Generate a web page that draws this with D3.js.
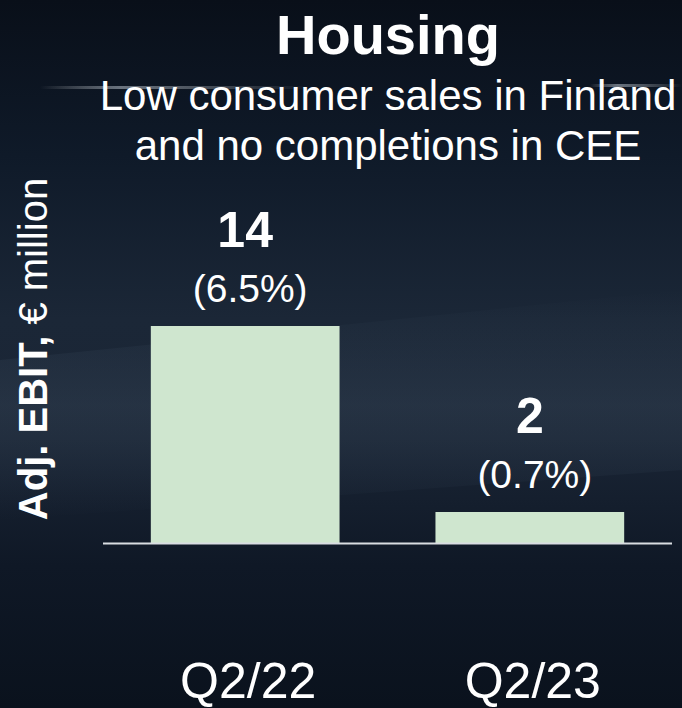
<!DOCTYPE html>
<html>
<head>
<meta charset="utf-8">
<script src="https://cdn.jsdelivr.net/npm/d3@7"></script>
<style>
  html, body { margin: 0; padding: 0; background: #0c1522; }
  svg { display: block; font-family: "Liberation Sans", Arial, sans-serif; }
</style>
</head>
<body>
<svg id="chart" width="682" height="708"></svg>
<script>
"use strict";

// chart data
const categories = ["Q2/22", "Q2/23"];
const ebitValues = [14, 2];
const marginLabels = ["(6.5%)", "(0.7%)"];
const titleText = "Housing";
const subtitleLines = ["Low consumer sales in Finland", "and no completions in CEE"];
const yLabelBold = "Adj. EBIT,";
const yLabelRest = " € million";

const width = 682, height = 708;
const svg = d3.select("#chart");

// background: dark roof-photo look, approximated with gradients
let defs = svg.append("defs");
let bg = defs.append("linearGradient")
    .attr("id", "bgGrad")
    .attr("x1", 0).attr("y1", 0).attr("x2", 0).attr("y2", 1);
bg.append("stop").attr("offset", "0%").attr("stop-color", "#090f19");
bg.append("stop").attr("offset", "22%").attr("stop-color", "#0f1a29");
bg.append("stop").attr("offset", "45%").attr("stop-color", "#1b2737");
bg.append("stop").attr("offset", "62%").attr("stop-color", "#1a2535");
bg.append("stop").attr("offset", "80%").attr("stop-color", "#0f1826");
bg.append("stop").attr("offset", "100%").attr("stop-color", "#0a121d");

let band = defs.append("linearGradient")
    .attr("id", "bandGrad")
    .attr("x1", 0).attr("y1", 0).attr("x2", 0).attr("y2", 1);
band.append("stop").attr("offset", "0%").attr("stop-color", "#3a4a5c").attr("stop-opacity", 0);
band.append("stop").attr("offset", "50%").attr("stop-color", "#3a4a5c").attr("stop-opacity", 0.35);
band.append("stop").attr("offset", "100%").attr("stop-color", "#3a4a5c").attr("stop-opacity", 0);

let streak = defs.append("linearGradient")
    .attr("id", "streakGrad")
    .attr("x1", 0).attr("y1", 0).attr("x2", 1).attr("y2", 0);
streak.append("stop").attr("offset", "0%").attr("stop-color", "#ffffff").attr("stop-opacity", 0);
streak.append("stop").attr("offset", "30%").attr("stop-color", "#c8d2dc").attr("stop-opacity", 0.5);
streak.append("stop").attr("offset", "100%").attr("stop-color", "#ffffff").attr("stop-opacity", 0);

svg.append("rect")
    .attr("width", width)
    .attr("height", height)
    .attr("fill", "url(#bgGrad)");

// lighter diagonal band (roof surface)
svg.append("path")
    .attr("d", "M0,360 L682,290 L682,470 L0,520 Z")
    .attr("fill", "url(#bandGrad)");

// faint light streaks near the subtitle
svg.append("rect")
    .attr("x", 40).attr("y", 86)
    .attr("width", 270).attr("height", 3)
    .attr("fill", "url(#streakGrad)");
svg.append("rect")
    .attr("x", 590).attr("y", 84)
    .attr("width", 92).attr("height", 3)
    .attr("fill", "url(#streakGrad)");

// layout
const baseY = 543, topY = 326;

const x = d3.scaleBand()
    .domain(categories)
    .range([103, 672])
    .paddingInner(0.337)
    .paddingOuter(0.168);

const y = d3.scaleLinear()
    .domain([0, 14])
    .range([baseY, topY]);

// bars
svg.selectAll(".bar")
    .data(ebitValues)
    .enter().append("rect")
    .attr("class", "bar")
    .attr("x", (d, i) => x(categories[i]))
    .attr("y", d => y(d))
    .attr("width", x.bandwidth())
    .attr("height", d => y(0) - y(d))
    .attr("fill", "#cfe6cf");

// baseline
svg.append("line")
    .attr("x1", 103).attr("x2", 672)
    .attr("y1", y(0) + 0.5).attr("y2", y(0) + 0.5)
    .attr("stroke", "#d9dde2")
    .attr("stroke-width", 2);

// value labels
svg.selectAll(".value")
    .data(ebitValues)
    .enter().append("text")
    .attr("class", "value")
    .attr("x", (d, i) => x(categories[i]) + x.bandwidth() / 2)
    .attr("y", d => y(d) - 79)
    .attr("text-anchor", "middle")
    .attr("fill", "#ffffff")
    .attr("font-weight", "bold")
    .attr("font-size", 50)
    .text(d => d);

svg.selectAll(".margin")
    .data(marginLabels)
    .enter().append("text")
    .attr("class", "margin")
    .attr("x", (d, i) => x(categories[i]) + x.bandwidth() / 2 + 5)
    .attr("y", (d, i) => y(ebitValues[i]) - 24)
    .attr("text-anchor", "middle")
    .attr("fill", "#ffffff")
    .attr("font-size", 39)
    .text(d => d);

// category labels
svg.selectAll(".cat")
    .data(categories)
    .enter().append("text")
    .attr("class", "cat")
    .attr("x", d => x(d) + x.bandwidth() / 2 + 3)
    .attr("y", 698)
    .attr("text-anchor", "middle")
    .attr("fill", "#ffffff")
    .attr("font-size", 50)
    .text(d => d);

// title + subtitle
svg.append("text")
    .attr("x", 388).attr("y", 54)
    .attr("text-anchor", "middle")
    .attr("fill", "#ffffff")
    .attr("font-weight", "bold")
    .attr("font-size", 56)
    .text(titleText);

svg.selectAll(".sub")
    .data(subtitleLines)
    .enter().append("text")
    .attr("class", "sub")
    .attr("x", 388)
    .attr("y", (d, i) => 110 + i * 50)
    .attr("text-anchor", "middle")
    .attr("fill", "#ffffff")
    .attr("font-size", 42)
    .text(d => d);

// y axis label (bold part + regular part)
let yLab = svg.append("text")
    .attr("transform", "translate(47,349) rotate(-90)")
    .attr("text-anchor", "middle")
    .attr("fill", "#ffffff")
    .attr("font-size", 40);
yLab.append("tspan").attr("font-weight", "bold").text(yLabelBold);
yLab.append("tspan").text(yLabelRest);
</script>
</body>
</html>
